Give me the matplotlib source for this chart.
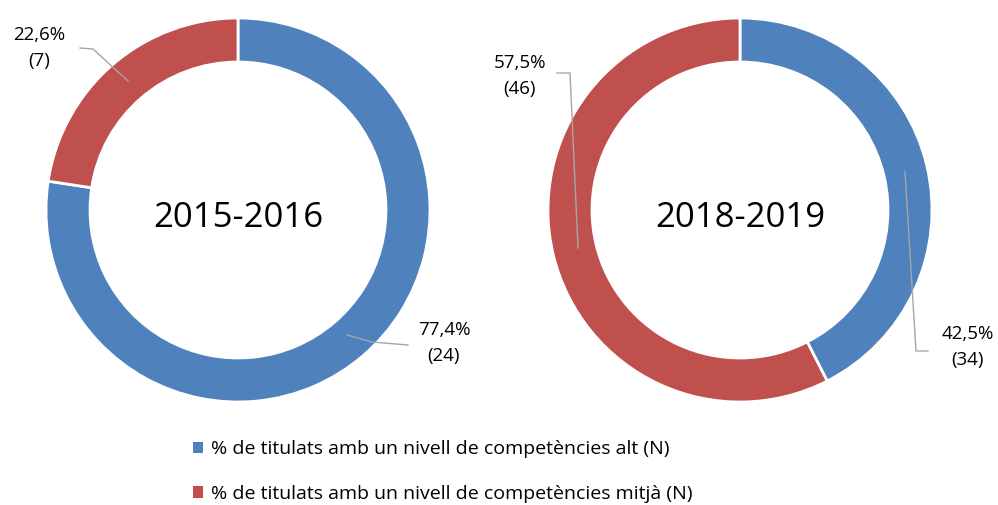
import matplotlib
matplotlib.use("Agg")
import matplotlib.pyplot as plt

periods = ["2015-2016", "2018-2019"]
series = ["% de titulats amb un nivell de competències alt (N)",
          "% de titulats amb un nivell de competències mitjà (N)"]
pct_2015 = [77.4, 22.6]
n_2015 = [24, 7]
pct_2018 = [42.5, 57.5]
n_2018 = [34, 46]
colors = ["#4F81BD", "#C0504D"]

W, H = 998, 505
fig = plt.figure(figsize=(W / 100, H / 100), dpi=100)
ax = fig.add_axes([0, 0, 1, 1])

font = "Open Sans"
R = 192
width = 44
centers = [(238, H - 210), (740, H - 210)]
wedge_sets = []
for (cx, cy), pcts in zip(centers, [pct_2015, pct_2018]):
    wedges, _ = ax.pie(pcts, colors=colors, startangle=90, counterclock=False,
                       center=(cx, cy), radius=R, frame=True,
                       wedgeprops=dict(width=width, edgecolor="white", linewidth=2))
    wedge_sets.append(wedges)
ax.set_xlim(0, W)
ax.set_ylim(0, H)
ax.set_aspect("equal")
ax.axis("off")

for (cx, cy), p in zip(centers, periods):
    ax.text(cx, cy - 8, p, ha="center", va="center", fontsize=25, family=font, color="black")

def lab(p, n):
    return f"{p:.1f}".replace(".", ",") + f"%\n({n})"

lc = "#A6A6A6"
lkw = dict(ha="center", va="center", fontsize=13.5, family=font, linespacing=1.6)
# left donut labels
ax.text(39, H - 48, lab(pct_2015[1], n_2015[1]), **lkw)
ax.plot([80, 93, 128], [H - 48, H - 49, H - 81], color=lc, lw=1)
ax.text(444, H - 343, lab(pct_2015[0], n_2015[0]), **lkw)
ax.plot([347, 372, 408], [H - 335, H - 342, H - 345], color=lc, lw=1)
# right donut labels
ax.text(520, H - 76, lab(pct_2018[1], n_2018[1]), **lkw)
ax.plot([557, 570, 578], [H - 73, H - 73, H - 248], color=lc, lw=1)
ax.text(968, H - 347, lab(pct_2018[0], n_2018[0]), **lkw)
ax.plot([905, 916, 928], [H - 172, H - 351, H - 351], color=lc, lw=1)

leg = fig.legend(wedge_sets[0], series, loc="upper left",
                 bbox_to_anchor=(175 / W, 1 - 423 / H), frameon=False,
                 handlelength=0.55, handleheight=0.55, handletextpad=0.4,
                 labelspacing=1.35, prop=dict(family=font, size=14))
for h in leg.legend_handles:
    h.set_edgecolor("none")

fig.savefig("out.png", dpi=100)
